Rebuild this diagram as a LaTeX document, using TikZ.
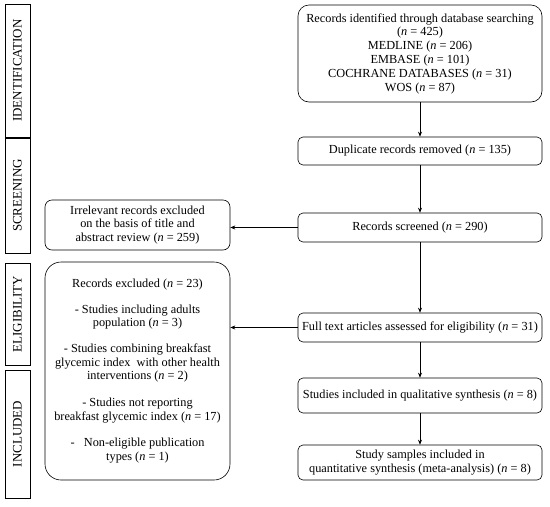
\documentclass[tikz,border=0pt]{standalone}
\usepackage{fontspec}
\setmainfont{Liberation Serif}
\usetikzlibrary{arrows.meta}
\begin{document}
\begin{tikzpicture}[x=1pt,y=-1pt,
  box/.style={draw, line width=0.6pt, rounded corners=5pt, align=center, inner sep=2pt, font=\fontsize{12.3}{13.8}\selectfont},
  side/.style={draw, line width=0.6pt, minimum width=25pt, inner sep=0pt},
  sidetxt/.style={rotate=90, font=\fontsize{13}{14}\selectfont},
  arr/.style={line width=0.6pt, -{Stealth[length=5pt,width=4pt]}}]
\useasboundingbox (0,0) rectangle (550,507);
\newcommand{\nn}{\textit{n}}
% side bars
\node[side, minimum height=133pt] (sid) at (17.5,70.5) {};
\node[sidetxt] at (sid.center) {IDENTIFICATION};
\node[side, minimum height=115pt] (sscr) at (17.5,195.5) {};
\node[sidetxt] at (sscr.center) {SCREENING};
\node[side, minimum height=102pt] (sel) at (17.5,314) {};
\node[sidetxt] at (sel.center) {ELIGIBILITY};
\node[side, minimum height=128pt] (sinc) at (17.5,434) {};
\node[sidetxt] at (sinc.center) {INCLUDED};
% main column
\node[box, rounded corners=11pt, minimum width=244pt, minimum height=97pt] (id) at (420,53.5)
 {Records identified through database searching\\(\nn{} = 425)\\MEDLINE (\nn{} = 206)\\EMBASE (\nn{} = 101)\\COCHRANE DATABASES (\nn{} = 31)\\WOS (\nn{} = 87)};
\node[box, minimum width=244pt, minimum height=28pt] (dup) at (420,151) {Duplicate records removed (\nn{} = 135)};
\node[box, minimum width=244pt, minimum height=29pt] (scr) at (420,227.5) {Records screened (\nn{} = 290)};
\node[box, minimum width=244pt, minimum height=29pt] (full) at (420,327.5) {Full text articles assessed for eligibility (\nn{} = 31)};
\node[box, minimum width=244pt, minimum height=35pt] (qual) at (420,395.5) {Studies included in qualitative synthesis (\nn{} = 8)};
\node[box, minimum width=244pt, minimum height=35pt] (samp) at (420,462.5) {Study samples included in\\quantitative synthesis (meta-analysis) (\nn{} = 8)};
% left column
\node[box, rounded corners=7pt, minimum width=185pt, minimum height=50pt] (irr) at (137.5,225)
 {Irrelevant records excluded\\on the basis of title and\\abstract review (\nn{} = 259)};
\node[box, rounded corners=16pt, minimum width=185pt, minimum height=218pt] (exc) at (137.5,371)
 {Records excluded (\nn{} = 23)\\[11.5pt]
  - Studies including adults\\population (\nn{} = 3)\\[11.5pt]
  - Studies combining breakfast\\glycemic index \ with other health\\interventions (\nn{} = 2)\\[13pt]
  - Studies not reporting\\breakfast glycemic index (\nn{} = 17)\\[12pt]
  - \ \ Non-eligible publication\\types (\nn{} = 1)};
% arrows
\draw[arr] (id.south) -- (dup.north);
\draw[arr] (dup.south) -- (scr.north);
\draw[arr] (scr.south) -- (full.north);
\draw[arr] (full.south) -- (qual.north);
\draw[arr] (qual.south) -- (samp.north);
\draw[arr] (scr.west) -- (irr.east |- scr.west);
\draw[arr] (full.west) -- (full.west -| exc.east);
\end{tikzpicture}
\end{document}
